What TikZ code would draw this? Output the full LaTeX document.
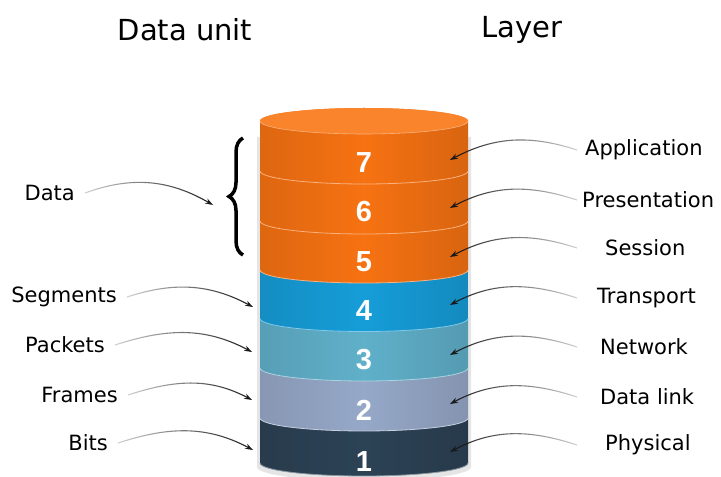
\documentclass[tikz,border=0pt]{standalone}
\usepackage{fontspec}
\setmainfont{DejaVu Sans}
\newfontfamily\numfont{Liberation Sans}
\usetikzlibrary{arrows.meta,decorations.pathreplacing,fadings}
\definecolor{orangeL}{RGB}{246,114,18}
\definecolor{orangeT}{RGB}{249,132,44}
\definecolor{blueL}{RGB}{22,157,216}
\definecolor{tealL}{RGB}{96,176,202}
\definecolor{greyL}{RGB}{150,168,200}
\definecolor{navyL}{RGB}{44,66,85}
\tikzfading[name=fadeE, left color=transparent!0, right color=transparent!80]
\tikzfading[name=fadeW, left color=transparent!80, right color=transparent!0]
\newcommand\layerdisc[3]{%
  \shade[left color=#3!90!black, right color=#3!88!black, middle color=#3]
    (260,#1) -- (260,#2) arc[start angle=180,end angle=360,x radius=104,y radius=13]
    -- (468,#1) arc[start angle=0,end angle=180,x radius=104,y radius=13] -- cycle;
  \draw[#3!55!white, line width=0.8pt]
    (260,#2) arc[start angle=180,end angle=360,x radius=104,y radius=13];
}
\begin{document}
\begin{tikzpicture}[x=1pt,y=1pt,
  lbl/.style={font=\fontsize{21}{25}\selectfont, inner sep=0pt},
  hdr/.style={font=\fontsize{29}{34}\selectfont, inner sep=0pt},
  num/.style={font=\numfont\bfseries\fontsize{29}{30}\selectfont, text=white, inner sep=0pt},
  conn/.style={draw=black!90, line width=1.1pt, -{Stealth[length=8pt,width=5.5pt]}},
  connR/.style={conn, path fading=fadeE},
  connL/.style={conn, path fading=fadeW},
]
\useasboundingbox (0,0) rectangle (721,477);

% soft shadow of the cylinder
\fill[black!10] (257,340) -- (257,10) arc[start angle=180,end angle=360,x radius=107,y radius=14] -- (471,340) -- cycle;

% cylinder, bottom to top
\layerdisc{59}{14}{navyL}
\layerdisc{109}{59}{greyL}
\layerdisc{158.5}{109}{tealL}
\layerdisc{207}{158.5}{blueL}
\layerdisc{256}{207}{orangeL}
\layerdisc{306}{256}{orangeL}
\layerdisc{356}{306}{orangeL}
\fill[orangeT] (364,356) ellipse[x radius=104, y radius=13];
\draw[orangeL!55!white, line width=0.6pt] (260,356) arc[start angle=180,end angle=360,x radius=104,y radius=13];

% layer numbers
\node[num] (n7) at (364,314) {7};
\node[num] (n6) at (364,265) {6};
\node[num] (n5) at (364,215) {5};
\node[num] (n4) at (364,166) {4};
\node[num] (n3) at (364,117) {3};
\node[num] (n2) at (364,67) {2};
\node[num] (n1) at (364,15) {1};

% headers
\node[hdr] (hunit) at (185,447) {Data unit};
\node[hdr] (hlayer) at (522,447) {Layer};

% left labels
\node[lbl, anchor=east] (ldata) at (75,284) {Data};
\node[lbl, anchor=east] (lseg) at (117,180) {Segments};
\node[lbl, anchor=east] (lpack) at (105,132) {Packets};
\node[lbl, anchor=east] (lframe) at (118,82) {Frames};
\node[lbl, anchor=east] (lbits) at (108,34) {Bits};

% right labels
\node[lbl, anchor=west] (rapp) at (585,327) {Application};
\node[lbl, anchor=west] (rpres) at (582,277) {Presentation};
\node[lbl, anchor=west] (rsess) at (605,229) {Session};
\node[lbl, anchor=west] (rtrans) at (597,179) {Transport};
\node[lbl, anchor=west] (rnet) at (600,130) {Network};
\node[lbl, anchor=west] (rdl) at (600,80) {Data link};
\node[lbl, anchor=west] (rphy) at (605,32) {Physical};

% brace
\draw[decorate, decoration={brace, amplitude=14pt}, line width=3.5pt] (243,222) -- (243,339);

% left arrow targets
\coordinate (tdata) at (213,272);
\coordinate (tseg) at (253,170);
\coordinate (tpack) at (252,125);
\coordinate (tframe) at (252,77);
\coordinate (tbits) at (253,27);
% right arrow targets
\coordinate (t7) at (450,317);
\coordinate (t6) at (450,269);
\coordinate (t5) at (450,220);
\coordinate (t4) at (450,172);
\coordinate (t3) at (450,122);
\coordinate (t2) at (450,73);
\coordinate (t1) at (450,25);

\draw[connL] ([xshift=10pt]ldata.east) to[out=20, in=150] (tdata);
\draw[connL] ([xshift=10pt]lseg.east) to[out=18, in=152] (tseg);
\draw[connL] ([xshift=10pt]lpack.east) to[out=18, in=152] (tpack);
\draw[connL] ([xshift=10pt]lframe.east) to[out=18, in=152] (tframe);
\draw[connL] ([xshift=10pt]lbits.east) to[out=18, in=152] (tbits);

\draw[connR] ([xshift=-8pt]rapp.west) to[out=162, in=28] (t7);
\draw[connR] ([xshift=-5pt]rpres.west) to[out=162, in=28] (t6);
\draw[connR] ([xshift=-28pt]rsess.west) to[out=162, in=28] (t5);
\draw[connR] ([xshift=-20pt]rtrans.west) to[out=162, in=28] (t4);
\draw[connR] ([xshift=-23pt]rnet.west) to[out=162, in=28] (t3);
\draw[connR] ([xshift=-23pt]rdl.west) to[out=162, in=28] (t2);
\draw[connR] ([xshift=-28pt]rphy.west) to[out=162, in=28] (t1);
\end{tikzpicture}
\end{document}
